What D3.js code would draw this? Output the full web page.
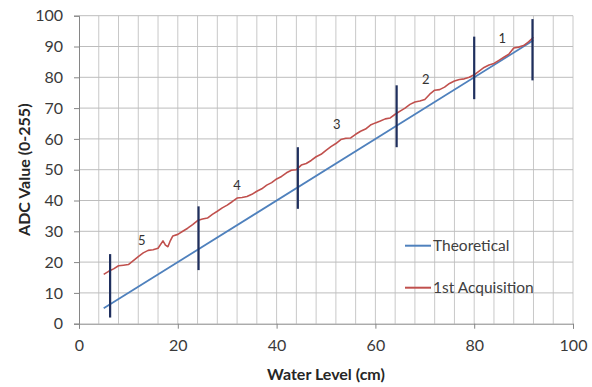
<!DOCTYPE html>
<html>
<head>
<meta charset="utf-8">
<script src="https://cdn.jsdelivr.net/npm/d3@7"></script>
<style>
  body { margin: 0; background: #fff; }
  svg { display: block; font-family: Lato, "Open Sans", sans-serif; }
</style>
</head>
<body>
<svg id="chart" width="592" height="387"></svg>
<script>
const width = 592
const height = 387
const margin = { top: 16, right: 19, bottom: 64, left: 79 }

// theoretical line (y = x)
const theoreticalX = [5, 92]
const theoreticalY = [5, 92]

// 1st acquisition
const acqX = [5, 6, 7, 8, 9, 10, 11, 12, 13, 14, 15, 16, 17, 17.5, 18, 18.5, 19, 20, 21, 22,
  23, 24, 25, 26, 27, 28, 29, 30, 31, 32, 33, 34, 35, 36, 37, 38, 39, 40, 41, 42,
  43, 44, 45, 46, 47, 48, 49, 50, 51, 52, 53, 54, 55, 56, 57, 58, 59, 60, 61, 62,
  63, 64, 65, 66, 67, 68, 69, 70, 71, 72, 73, 74, 75, 76, 77, 78, 79, 80, 81, 82,
  83, 84, 85, 86, 87, 88, 89, 90, 91, 92]
const acqY = [16, 17, 17.8, 18.8, 19, 19.2, 20.5, 21.8, 23, 23.8, 24, 24.5, 26.9, 25.5, 25, 27, 28.5, 29, 30, 31,
  32.2, 33.5, 34, 34.3, 35.5, 36.5, 37.6, 38.5, 39.6, 40.8, 41, 41.3, 42, 43, 43.8, 45, 45.8, 47, 47.8, 49,
  49.8, 50, 51.5, 52, 53, 54.2, 55, 56.3, 57.5, 58.5, 59.8, 60.2, 60.3, 61.5, 62.5, 63.2, 64.5, 65.2, 65.8, 66.5,
  66.8, 68, 69, 70, 71.2, 72, 72.3, 72.8, 74.5, 75.8, 76, 76.8, 78, 78.8, 79.3, 79.5, 80, 80.8, 82, 83.2,
  84, 84.5, 85.5, 86.5, 87.5, 89.5, 89.8, 90.3, 91.5, 93]

// vertical range bars
const barX = [6.3, 24.2, 44.3, 64.3, 80, 91.8]
const barLow = [2, 17.4, 37.3, 57.3, 72.9, 79]
const barHigh = [22.6, 38.1, 57.3, 77.4, 93.2, 98.9]

// segment labels
const segLabels = ["1", "2", "3", "4", "5"]
const segX = [85.7, 70.2, 52.2, 32, 12.7]
const segY = [92.6, 79.4, 64.7, 44.9, 27.2]

const xTicks = [0, 20, 40, 60, 80, 100]
const yTicks = [0, 10, 20, 30, 40, 50, 60, 70, 80, 90, 100]
const xGrid = d3.range(4, 101, 4)

const seriesNames = ["Theoretical", "1st Acquisition"]
const seriesColors = ["#4f81bd", "#c0504d"]

const svg = d3.select("#chart")

const x = d3.scaleLinear().domain([0, 100]).range([margin.left, width - margin.right])
const y = d3.scaleLinear().domain([0, 100]).range([height - margin.bottom + 0.7, margin.top - 0.3])

// gridlines
svg.append("g").selectAll("line").data(xGrid).enter().append("line")
    .attr("x1", d => x(d)).attr("x2", d => x(d))
    .attr("y1", y(0)).attr("y2", y(100))
    .attr("stroke", "#c8c8c8").attr("stroke-width", 1)

svg.append("g").selectAll("line").data(yTicks.slice(1)).enter().append("line")
    .attr("x1", x(0)).attr("x2", x(100))
    .attr("y1", d => y(d)).attr("y2", d => y(d))
    .attr("stroke", "#bdbdbd").attr("stroke-width", 1)

// axes
const xAxis = svg.append("g")
    .attr("transform", `translate(0,${y(0)})`)
    .call(d3.axisBottom(x).tickValues(xTicks).tickSize(5).tickPadding(11))
const yAxis = svg.append("g")
    .attr("transform", `translate(${x(0)},0)`)
    .call(d3.axisLeft(y).tickValues(yTicks).tickSize(5).tickPadding(11))

for (const ax of [xAxis, yAxis]) {
    ax.select(".domain").attr("stroke", "#868686")
    ax.selectAll(".tick line").attr("stroke", "#868686")
    ax.selectAll("text").attr("font-size", 16).attr("fill", "#3a3a3a")
        .attr("font-family", "Lato, 'Open Sans', sans-serif")
}

// axis titles
svg.append("text")
    .attr("x", x(50)).attr("y", 380)
    .attr("text-anchor", "middle")
    .attr("font-size", 16).attr("font-weight", "bold").attr("fill", "#262626")
    .text("Water Level (cm)")

svg.append("text")
    .attr("transform", `translate(30,${(y(0) + y(100)) / 2}) rotate(-90)`)
    .attr("text-anchor", "middle")
    .attr("font-size", 16).attr("font-weight", "bold").attr("fill", "#262626")
    .text("ADC Value (0-255)")

// lines
const line = d3.line().x(d => x(d[0])).y(d => y(d[1]))

svg.append("path")
    .datum(d3.zip(theoreticalX, theoreticalY))
    .attr("d", line)
    .attr("fill", "none").attr("stroke", seriesColors[0]).attr("stroke-width", 1.8)

svg.append("path")
    .datum(d3.zip(acqX, acqY))
    .attr("d", line)
    .attr("fill", "none").attr("stroke", seriesColors[1]).attr("stroke-width", 1.6)
    .attr("stroke-linejoin", "round")

// range bars
svg.append("g").selectAll("line").data(d3.zip(barX, barLow, barHigh)).enter().append("line")
    .attr("x1", d => x(d[0])).attr("x2", d => x(d[0]))
    .attr("y1", d => y(d[1])).attr("y2", d => y(d[2]))
    .attr("stroke", "#1f2f5e").attr("stroke-width", 2.2)

// segment numbers
svg.append("g").selectAll("text").data(d3.zip(segLabels, segX, segY)).enter().append("text")
    .attr("x", d => x(d[1])).attr("y", d => y(d[2]))
    .attr("text-anchor", "middle").attr("dominant-baseline", "central")
    .attr("font-size", 13).attr("fill", "#333")
    .text(d => d[0])

// legend
const legendY = [245.7, 287.7]
const legend = svg.append("g").selectAll("g").data(seriesNames).enter().append("g")
    .attr("transform", (d, i) => `translate(405,${legendY[i]})`)
legend.append("line")
    .attr("x1", 0).attr("x2", 26)
    .attr("stroke", (d, i) => seriesColors[i]).attr("stroke-width", 2)
legend.append("text")
    .attr("x", 28).attr("dy", "0.35em")
    .attr("font-size", 15.5).attr("fill", "#404040")
    .text(d => d)
</script>
</body>
</html>
